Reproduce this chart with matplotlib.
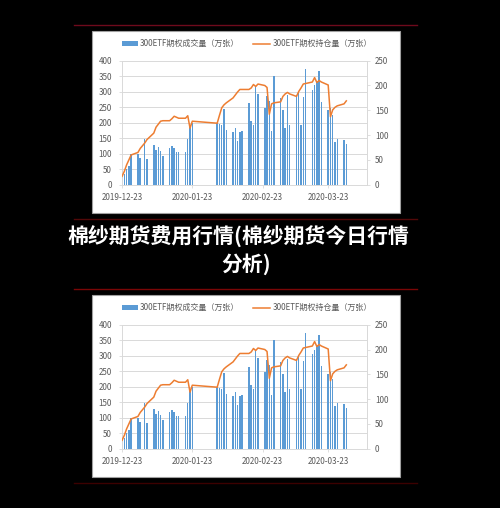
import matplotlib
matplotlib.use("Agg")
import matplotlib.pyplot as plt
import matplotlib.dates as mdates
from matplotlib.patches import Rectangle
from matplotlib.lines import Line2D
import pandas as pd

plt.rcParams['font.family'] = ['Noto Sans CJK SC', 'DejaVu Sans']

dates = ["2019-12-23", "2019-12-24", "2019-12-25", "2019-12-26", "2019-12-27",
         "2019-12-30", "2019-12-31",
         "2020-01-02", "2020-01-03",
         "2020-01-06", "2020-01-07", "2020-01-08", "2020-01-09", "2020-01-10",
         "2020-01-13", "2020-01-14", "2020-01-15", "2020-01-16", "2020-01-17",
         "2020-01-20", "2020-01-21", "2020-01-22", "2020-01-23",
         "2020-02-03", "2020-02-04", "2020-02-05", "2020-02-06", "2020-02-07",
         "2020-02-10", "2020-02-11", "2020-02-12", "2020-02-13", "2020-02-14",
         "2020-02-17", "2020-02-18", "2020-02-19", "2020-02-20", "2020-02-21",
         "2020-02-24", "2020-02-25", "2020-02-26", "2020-02-27", "2020-02-28",
         "2020-03-02", "2020-03-03", "2020-03-04", "2020-03-05", "2020-03-06",
         "2020-03-09", "2020-03-10", "2020-03-11", "2020-03-12", "2020-03-13",
         "2020-03-16", "2020-03-17", "2020-03-18", "2020-03-19", "2020-03-20",
         "2020-03-23", "2020-03-24", "2020-03-25", "2020-03-26", "2020-03-27",
         "2020-03-30", "2020-03-31"]

volume = [45, 33, 50, 60, 100,
          99, 86,
          147, 84,
          129, 111, 123, 108, 92,
          120, 125, 120, 106, 105,
          104, 146, 193, 200,
          200, 197, 193, 244, 176,
          170, 183, 140, 169, 174,
          263, 206, 191, 317, 293,
          248, 285, 270, 172, 352,
          280, 240, 184, 290, 192,
          290, 298, 193, 283, 374,
          304, 320, 335, 368, 267,
          242, 246, 225, 139, 148,
          145, 130]

open_interest = [17, 27, 40, 50, 60,
                 65, 73,
                 84, 91,
                 104, 116, 122, 128, 129,
                 129, 133, 138, 136, 134,
                 134, 139, 114, 128,
                 124, 140, 155, 161, 165,
                 175, 181, 187, 192, 192,
                 192, 195, 202, 198, 203,
                 200, 196, 142, 163, 165,
                 167, 178, 183, 186, 183,
                 178, 188, 195, 203, 204,
                 207, 216, 206, 210, 207,
                 201, 137, 151, 156, 159,
                 163, 169]

xtick_labels = ["2019-12-23", "2020-01-23", "2020-02-23", "2020-03-23"]
left_ticks = [0, 50, 100, 150, 200, 250, 300, 350, 400]
right_ticks = [0, 50, 100, 150, 200, 250]
legend_bar = "300ETF期权成交量（万张）"
legend_line = "300ETF期权持仓量（万张）"
title1 = "棉纱期货费用行情(棉纱期货今日行情"
title2 = "分析)"

W, H = 500, 508
fig = plt.figure(figsize=(W / 100, H / 100), dpi=100, facecolor="black")

def fx(px):
    return px / W

def fy(py):
    return 1 - py / H

# red separator lines
for yy, col in [(25, "#6e0a1c"), (219, "#520808"), (289, "#7a0606"), (483, "#3c0000")]:
    fig.add_artist(Line2D([fx(74), fx(417)], [fy(yy), fy(yy)], color=col, lw=1.0,
                          transform=fig.transFigure))

x = pd.to_datetime(dates)
BAR = "#5B9BD5"
LINE = "#ED7D31"
GRAY = "#595959"
GRID = "#d9d9d9"
FS = 5.8


def draw_chart(off):
    # white panel
    fig.add_artist(Rectangle((fx(92), fy(212.7 + off)), fx(400) - fx(92),
                             fy(31 + off) - fy(212.7 + off), transform=fig.transFigure,
                             facecolor="white", edgecolor="#a0a0a0", lw=0.8, zorder=0))
    left, right = 121.7, 366.7
    top, bot = 60.7 + off, 184.7 + off
    ax = fig.add_axes([fx(left), fy(bot), fx(right) - fx(left), fy(top) - fy(bot)])
    ax.set_facecolor("none")
    ax.bar(x, volume, width=0.65, color=BAR, zorder=2)
    ax.set_ylim(0, 400)
    ax.set_yticks(left_ticks)
    ax.set_xlim(pd.Timestamp("2019-12-22 20:00"), pd.Timestamp("2020-04-09"))
    ax.set_xticks(pd.to_datetime(xtick_labels))
    ax.set_xticklabels(xtick_labels)
    ax.grid(axis="y", color=GRID, lw=0.7, zorder=0)
    ax.set_axisbelow(True)
    for s in ["top"]:
        ax.spines[s].set_visible(False)
    for s in ["left", "right", "bottom"]:
        ax.spines[s].set_color(GRID)
        ax.spines[s].set_linewidth(0.7)
    ax.tick_params(axis="y", labelsize=FS, labelcolor=GRAY, color=GRID, length=2, width=0.6, pad=5)
    ax.tick_params(axis="x", labelsize=FS, labelcolor=GRAY, color=GRID, length=2, width=0.6, pad=4)

    ax2 = ax.twinx()
    ax2.plot(x, open_interest, color=LINE, lw=1.1, zorder=3)
    ax2.set_ylim(0, 250)
    ax2.set_yticks(right_ticks)
    for s in ["top", "left", "bottom"]:
        ax2.spines[s].set_visible(False)
    ax2.spines["right"].set_color(GRID)
    ax2.spines["right"].set_linewidth(0.7)
    ax2.tick_params(axis="y", labelsize=FS, labelcolor=GRAY, color=GRID, length=2, width=0.6, pad=4)

    # legend
    ly = 43.7 + off
    fig.add_artist(Rectangle((fx(122), fy(ly + 2.5)), fx(138) - fx(122), fy(ly - 2.5) - fy(ly + 2.5),
                             transform=fig.transFigure, facecolor=BAR, edgecolor="none"))
    fig.text(fx(140), fy(ly), legend_bar, fontsize=FS, color=GRAY, va="center", ha="left")
    fig.add_artist(Line2D([fx(253), fx(270)], [fy(ly), fy(ly)], color=LINE, lw=1.1,
                          transform=fig.transFigure))
    fig.text(fx(273), fy(ly), legend_line, fontsize=FS, color=GRAY, va="center", ha="left")


draw_chart(0)
draw_chart(264)

fig.text(fx(67), fy(237), title1, fontsize=15, color="white", fontweight="bold",
         ha="left", va="center")
fig.text(fx(246.5), fy(264), title2, fontsize=15, color="white", fontweight="bold",
         ha="center", va="center")

fig.savefig("out.png", dpi=100, facecolor="black")
